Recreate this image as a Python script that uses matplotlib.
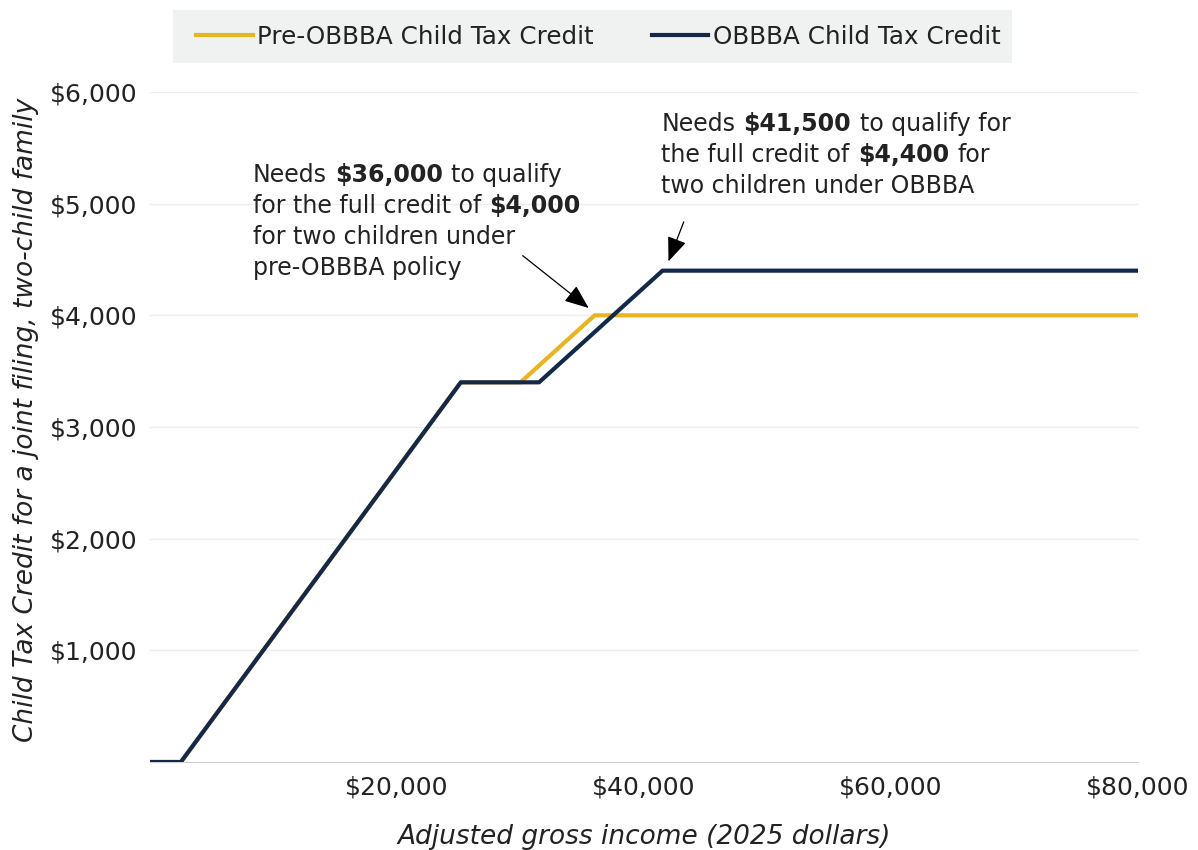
import numpy as np
import matplotlib.pyplot as plt
from matplotlib.offsetbox import TextArea, HPacker, VPacker, AnnotationBbox
from matplotlib.patches import Rectangle
from matplotlib.ticker import FuncFormatter

# DATA
pre_x = [0, 2500, 25167, 30000, 36000, 80000]
pre_y = [0, 0, 3400, 3400, 4000, 4000]
obbba_x = [0, 2500, 25167, 31500, 41500, 80000]
obbba_y = [0, 0, 3400, 3400, 4400, 4400]
series_labels = ["Pre-OBBBA Child Tax Credit", "OBBBA Child Tax Credit"]
x_ticks = [20000, 40000, 60000, 80000]
y_ticks = [1000, 2000, 3000, 4000, 5000, 6000]

GOLD = "#E8B422"
NAVY = "#14294A"
TXT = "#222222"
plt.rcParams["font.family"] = "DejaVu Sans"

fig = plt.figure(figsize=(11.98, 8.5), dpi=100)
ax = fig.add_axes([150/1198, 1-762/850, 988/1198, 670/850])

ax.plot(pre_x, pre_y, color=GOLD, lw=3, label=series_labels[0], zorder=3)
ax.plot(obbba_x, obbba_y, color=NAVY, lw=3, label=series_labels[1], zorder=4)

ax.set_xlim(0, 80000)
ax.set_ylim(0, 6000)
ax.set_xticks(x_ticks)
ax.set_yticks(y_ticks)
ax.xaxis.set_major_formatter(FuncFormatter(lambda v, p: f"${v:,.0f}"))
ax.yaxis.set_major_formatter(FuncFormatter(lambda v, p: f"${v:,.0f}"))
ax.tick_params(length=0, labelsize=18, labelcolor=TXT)
ax.tick_params(axis="x", pad=10)
ax.tick_params(axis="y", pad=9)

for s in ["top", "right", "left"]:
    ax.spines[s].set_visible(False)
ax.spines["bottom"].set_color("#D0D0D0")
ax.grid(axis="y", color="#EDEDED", lw=1)
ax.set_axisbelow(True)

ax.set_xlabel("Adjusted gross income (2025 dollars)", style="italic",
              fontsize=19, color=TXT, labelpad=17)
ax.set_ylabel("Child Tax Credit for a joint filing, two-child family",
              style="italic", fontsize=19, color=TXT)
ax.yaxis.set_label_coords(-0.112, 0.51)

# legend on a grey band
fig.patches.append(Rectangle((173/1198, 1-63/850), (1012-173)/1198, 53/850,
                             transform=fig.transFigure, facecolor="#F0F2F1",
                             edgecolor="none", zorder=0))
leg = fig.legend(loc="center left", bbox_to_anchor=(196/1198, 1-37/850), ncol=2,
                 frameon=False, prop=dict(size=17.7),
                 handlelength=2.3, handletextpad=0.2, columnspacing=2.35,
                 borderpad=0, borderaxespad=0)
for t in leg.get_texts():
    t.set_color(TXT)


def rich_block(lines, size=17):
    rows = []
    for parts in lines:
        areas = []
        for txt, bold in parts:
            props = dict(size=size, color=TXT, weight="bold" if bold else "normal")
            areas.append(TextArea(txt, textprops=props))
        rows.append(HPacker(children=areas, align="baseline", pad=0, sep=6))
    return VPacker(children=rows, align="left", pad=0, sep=5)


note1 = rich_block([
    [("Needs", False), ("$36,000", True), ("to qualify", False)],
    [("for the full credit of", False), ("$4,000", True)],
    [("for two children under", False)],
    [("pre-OBBBA policy", False)],
])
note2 = rich_block([
    [("Needs", False), ("$41,500", True), ("to qualify for", False)],
    [("the full credit of", False), ("$4,400", True), ("for", False)],
    [("two children under OBBBA", False)],
])
for box, xy in [(note1, (8300, 5360)), (note2, (41400, 5820))]:
    ab = AnnotationBbox(box, xy, xycoords="data", box_alignment=(0, 1), frameon=False)
    ax.add_artist(ab)

arrow = dict(arrowstyle="-|>,head_length=1.5,head_width=0.6", color="black", lw=0.9)
ax.annotate("", xy=(35700, 4050), xytext=(30000, 4550), arrowprops=arrow)
ax.annotate("", xy=(41900, 4460), xytext=(43300, 4860), arrowprops=arrow)

fig.savefig("out.png", dpi=100)
